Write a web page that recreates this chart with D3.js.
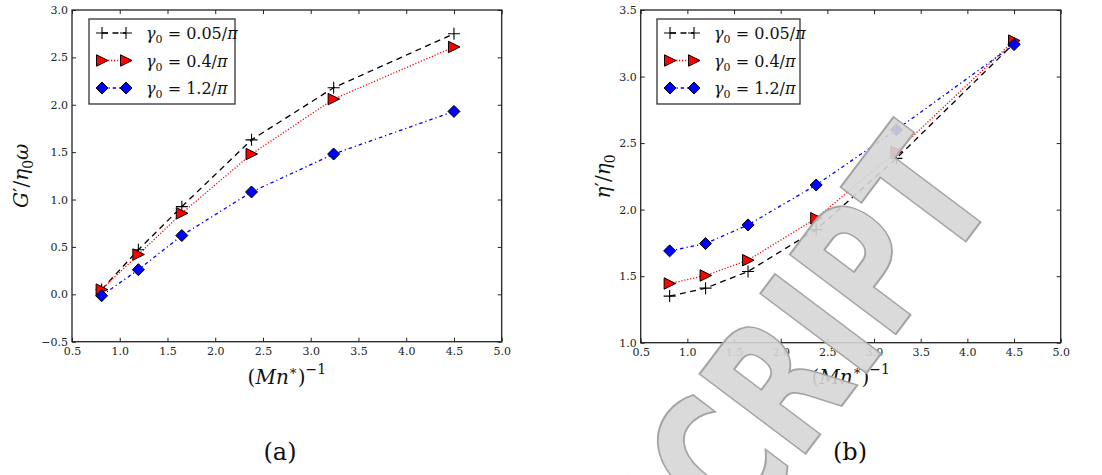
<!DOCTYPE html>
<html>
<head>
<meta charset="utf-8">
<script src="https://cdn.jsdelivr.net/npm/d3@7"></script>
<style>
  body { margin: 0; background: #fff; }
  svg { display: block; }
  .tick text { font-family: "DejaVu Serif", serif; font-size: 11px; fill: #222; }
  .tick line { stroke: #222; stroke-width: 1; }
  .domain { display: none; }
  .mathlbl { font-family: "DejaVu Serif", serif; fill: #111; }
</style>
</head>
<body>
<svg id="fig" width="1102" height="475"></svg>
<script>
// data
var mnInv = [0.81, 1.195, 1.65, 2.38, 3.24, 4.50];
var gLow  = [0.05, 0.47, 0.925, 1.63, 2.18, 2.75];
var gMid  = [0.05, 0.42, 0.855, 1.48, 2.06, 2.61];
var gHigh = [-0.015, 0.26, 0.62, 1.08, 1.48, 1.93];
var etaLow  = [1.35, 1.41, 1.535, 1.85, 2.385, 3.25];
var etaMid  = [1.445, 1.505, 1.62, 1.935, 2.435, 3.27];
var etaHigh = [1.69, 1.745, 1.885, 2.185, 2.60, 3.24];
var gammaLabels = ["0.05/", "0.4/", "1.2/"];
var xTicks = [0.5, 1.0, 1.5, 2.0, 2.5, 3.0, 3.5, 4.0, 4.5, 5.0];
var gTicks = [-0.5, 0.0, 0.5, 1.0, 1.5, 2.0, 2.5, 3.0];
var etaTicks = [1.0, 1.5, 2.0, 2.5, 3.0, 3.5];

var svg = d3.select("#fig");
var fmt = d3.format(".1f");

// line / marker styles for the three strain amplitudes
var styles = [
  {stroke: "#000", dash: "6,4.5", marker: "plus"},
  {stroke: "#ff0000", dash: "1.2,1.8", marker: "tri"},
  {stroke: "#0000ff", dash: "3.5,3,1.2,3", marker: "diamond"}
];

function drawMarker(g, type, x, y) {
  if (type == "plus") {
    g.append("path")
      .attr("d", "M" + (x - 6) + "," + y + "H" + (x + 6) + "M" + x + "," + (y - 6) + "V" + (y + 6))
      .attr("stroke", "#000").attr("stroke-width", 1.1).attr("fill", "none");
  } else if (type == "tri") {
    g.append("path")
      .attr("d", "M" + (x + 6) + "," + y + "L" + (x - 5.5) + "," + (y - 5.7) + "L" + (x - 5.5) + "," + (y + 5.7) + "Z")
      .attr("fill", "#ff0000").attr("stroke", "#000").attr("stroke-width", 1);
  } else {
    g.append("path")
      .attr("d", "M" + x + "," + (y - 6) + "L" + (x + 6) + "," + y + "L" + x + "," + (y + 6) + "L" + (x - 6) + "," + y + "Z")
      .attr("fill", "#0000ff").attr("stroke", "#000").attr("stroke-width", 1);
  }
}

function addGamma(t, rest) {
  t.append("tspan").attr("font-style", "italic").text("γ");
  t.append("tspan").attr("font-size", "11px").attr("dy", 4).text("0");
  t.append("tspan").attr("dy", -4).text(" = " + rest);
  t.append("tspan").attr("font-style", "italic").text("π");
}

function drawPanel(p) {
  var x = d3.scaleLinear().domain([0.5, 5.0]).range([p.left, p.right]);
  var y = d3.scaleLinear().domain(p.ydom).range([p.bottom, p.top]);
  var g = svg.append("g");

  // ticks on all four sides, pointing inward
  g.append("g").attr("transform", "translate(0," + p.bottom + ")")
    .call(d3.axisBottom(x).tickValues(xTicks).tickFormat(fmt).tickSize(-4).tickPadding(6));
  g.append("g").attr("transform", "translate(0," + p.top + ")")
    .call(d3.axisTop(x).tickValues(xTicks).tickFormat("").tickSize(-4));
  g.append("g").attr("transform", "translate(" + p.left + ",0)")
    .call(d3.axisLeft(y).tickValues(p.yticks).tickFormat(fmt).tickSize(-4).tickPadding(4));
  g.append("g").attr("transform", "translate(" + p.right + ",0)")
    .call(d3.axisRight(y).tickValues(p.yticks).tickFormat("").tickSize(-4));

  g.append("rect")
    .attr("x", p.left).attr("y", p.top)
    .attr("width", p.right - p.left).attr("height", p.bottom - p.top)
    .attr("fill", "none").attr("stroke", "#222").attr("stroke-width", 1.3);

  var line = d3.line().x(function(d) { return x(d[0]); }).y(function(d) { return y(d[1]); });

  p.series.forEach(function(vals, i) {
    var pts = mnInv.map(function(v, j) { return [v, vals[j]]; });
    g.append("path").datum(pts)
      .attr("d", line)
      .attr("fill", "none")
      .attr("stroke", styles[i].stroke)
      .attr("stroke-width", 1.3)
      .attr("stroke-dasharray", styles[i].dash);
  });
  p.series.forEach(function(vals, i) {
    mnInv.forEach(function(v, j) { drawMarker(g, styles[i].marker, x(v), y(vals[j])); });
  });

  // legend
  var lx = p.left + p.legendDx, ly = p.top + 9;
  var leg = g.append("g");
  leg.append("rect").attr("x", lx).attr("y", ly).attr("width", p.legendW).attr("height", 85)
    .attr("fill", "#fff").attr("stroke", "#333").attr("stroke-width", 1.3);
  styles.forEach(function(s, i) {
    var ry = ly + 14 + i * 27.5;
    leg.append("line").attr("x1", lx + 13).attr("x2", lx + 37).attr("y1", ry).attr("y2", ry)
      .attr("stroke", s.stroke).attr("stroke-width", 1.3).attr("stroke-dasharray", s.dash);
    drawMarker(leg, s.marker, lx + 13, ry);
    drawMarker(leg, s.marker, lx + 37, ry);
    var t = leg.append("text").attr("class", "mathlbl").attr("x", lx + 57).attr("y", ry + 6)
      .attr("font-size", "16px");
    addGamma(t, gammaLabels[i]);
  });

  // x label (Mn*)^-1
  var cx = (p.left + p.right) / 2;
  var xl = g.append("text").attr("class", "mathlbl").attr("x", cx).attr("y", 384)
    .attr("text-anchor", "middle").attr("font-size", "20px");
  xl.append("tspan").text("(");
  xl.append("tspan").attr("font-style", "italic").text("Mn");
  xl.append("tspan").attr("font-size", "13px").attr("dy", -9).text("∗");
  xl.append("tspan").attr("dy", 9).text(")");
  xl.append("tspan").attr("font-size", "14px").attr("dy", -10).text("−1");

  // y label
  var cy = (p.top + p.bottom) / 2;
  var yl = g.append("text").attr("class", "mathlbl")
    .attr("transform", "translate(" + p.ylabX + "," + cy + ") rotate(-90)")
    .attr("text-anchor", "middle").attr("font-size", "20px");
  p.ylabel(yl);

  // panel letter
  g.append("text").attr("class", "mathlbl").attr("x", p.letterX).attr("y", 460)
    .attr("text-anchor", "middle").attr("font-size", "24px").text(p.letter);
}

drawPanel({
  left: 72, right: 501.7, top: 10, bottom: 341.7,
  ydom: [-0.5, 3.0], yticks: gTicks,
  series: [gLow, gMid, gHigh],
  legendDx: 17, legendW: 146,
  ylabX: 28, letterX: 280, letter: "(a)",
  ylabel: function(t) {
    t.append("tspan").attr("font-style", "italic").text("G");
    t.append("tspan").text("′/");
    t.append("tspan").attr("font-style", "italic").text("η");
    t.append("tspan").attr("font-size", "14px").attr("dy", 5).text("0");
    t.append("tspan").attr("dy", -5).attr("font-style", "italic").text("ω");
  }
});

drawPanel({
  left: 640.7, right: 1060.7, top: 10, bottom: 342.7,
  ydom: [1.0, 3.5], yticks: etaTicks,
  series: [etaLow, etaMid, etaHigh],
  legendDx: 16.3, legendW: 143,
  ylabX: 610, letterX: 850, letter: "(b)",
  ylabel: function(t) {
    t.append("tspan").attr("font-style", "italic").text("η");
    t.append("tspan").text("′/");
    t.append("tspan").attr("font-style", "italic").text("η");
    t.append("tspan").attr("font-size", "14px").attr("dy", 5).text("0");
  }
});

// manuscript watermark (tall, narrow grey letters running up the right panel)
svg.append("text")
  .attr("transform", "translate(1000,196) rotate(-53) scale(0.72,1)")
  .attr("text-anchor", "end")
  .attr("font-family", "DejaVu Sans, sans-serif")
  .attr("font-weight", "bold")
  .attr("font-size", "182px")
  .attr("fill", "#d6d6d6")
  .attr("fill-opacity", 0.9)
  .attr("stroke", "#a4a4a4")
  .attr("stroke-width", 2)
  .text("SCRIPT");
</script>
</body>
</html>
